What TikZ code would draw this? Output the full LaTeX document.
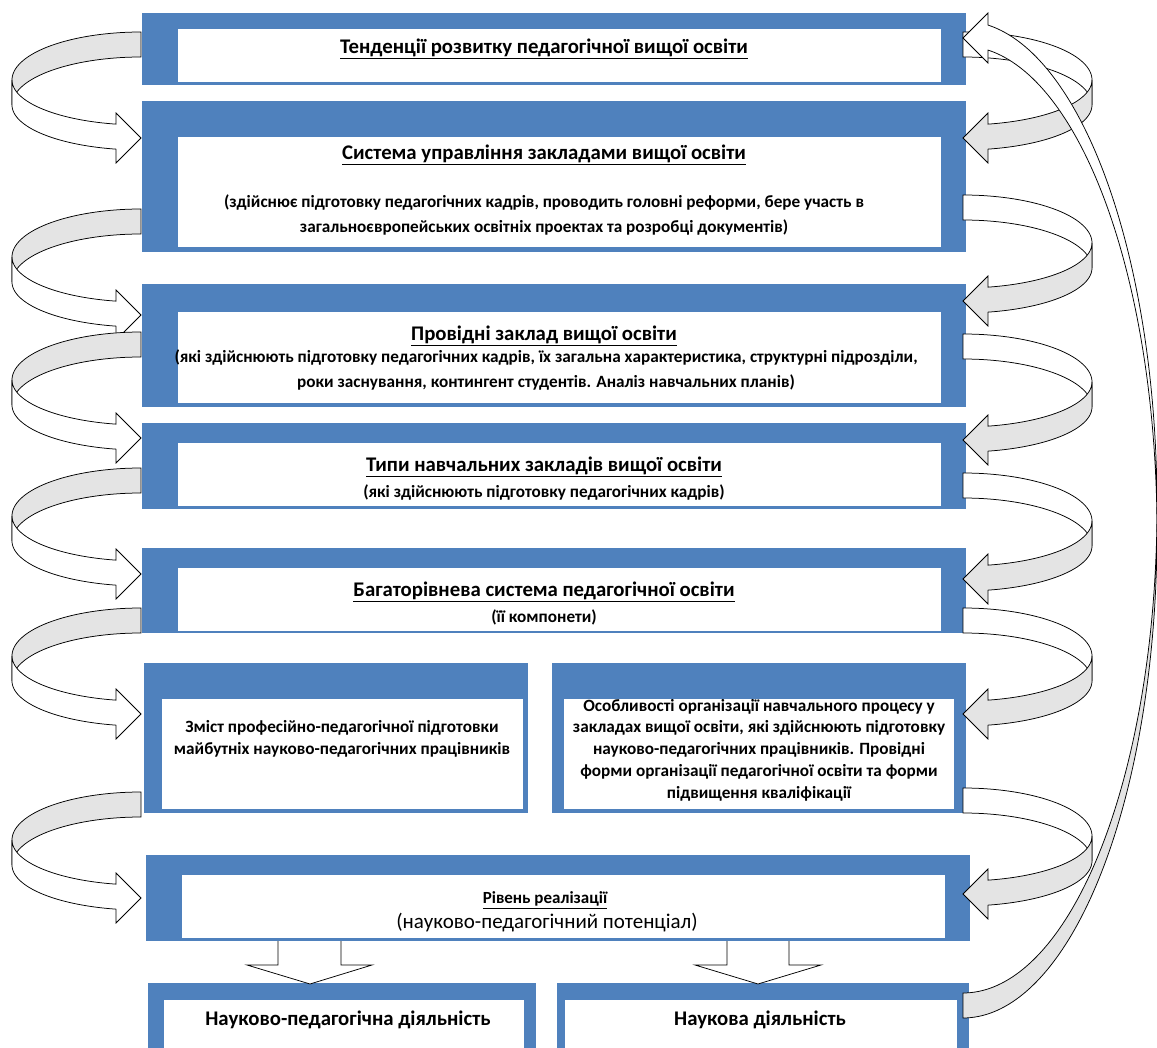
\documentclass[tikz,border=0pt]{standalone}
\usepackage{fontspec}
\setmainfont{Carlito}
\definecolor{boxblue}{HTML}{4F81BD}
\definecolor{bandgray}{HTML}{E4E4E4}
\begin{document}
\begin{tikzpicture}[x=1pt,y=-1pt,
  bluebox/.style={fill=boxblue, draw=none, anchor=north west, inner sep=0pt, outer sep=0pt},
  whitebox/.style={fill=white, draw=none, anchor=north west, inner sep=0pt, outer sep=0pt},
  ttl/.style={font=\fontsize{20.8}{24}\selectfont\bfseries, inner sep=0pt},
  subt/.style={font=\fontsize{17.2}{25}\selectfont\bfseries, align=center, inner sep=0pt},
  midt/.style={font=\fontsize{17.2}{21.7}\selectfont\bfseries, align=center, inner sep=0pt},
  arrowline/.style={draw=black, line width=0.75pt, line join=miter},
  pics/curl/.style n args={3}{code={
    \begin{scope}[xscale=#1]
      \filldraw[arrowline, fill=#2] (0,0)
        -- plot[domain=0:90,samples=40] ({-129*sin(\x)},{48-48*cos(\x)})
        -- (-129,73)
        -- plot[domain=0:90,samples=40] ({-129*cos(\x)},{73-48*sin(\x)})
        -- cycle;
      \filldraw[arrowline, fill=#3] (-129,48)
        -- plot[domain=0:78.83,samples=40] ({-129*cos(\x)},{48+45*sin(\x)})
        -- (-25,81) -- (0,106) -- (-25,131)
        -- plot[domain=11.17:90,samples=40] ({-129*sin(\x)},{73+45*cos(\x)})
        -- cycle;
    \end{scope}
  }}
]
\useasboundingbox (0,0) rectangle (1157,1048);

% ---------- boxes ----------
\node[bluebox, minimum width=824pt, minimum height=72pt]  (b1) at (142,13) {};
\node[whitebox, minimum width=763pt, minimum height=53pt] (w1) at (178,29) {};
\node[bluebox, minimum width=824pt, minimum height=151pt] (b2) at (142,101) {};
\node[whitebox, minimum width=763pt, minimum height=110pt] (w2) at (178,137) {};
\node[bluebox, minimum width=824pt, minimum height=123pt] (b3) at (142,284) {};
\node[whitebox, minimum width=763pt, minimum height=91pt] (w3) at (178,312) {};
\node[bluebox, minimum width=824pt, minimum height=86pt]  (b4) at (142,423) {};
\node[whitebox, minimum width=763pt, minimum height=63pt] (w4) at (178,443) {};
\node[bluebox, minimum width=824pt, minimum height=85pt]  (b5) at (142,548) {};
\node[whitebox, minimum width=763pt, minimum height=63pt] (w5) at (178,568) {};
\node[bluebox, minimum width=384pt, minimum height=150pt] (b6a) at (144,663) {};
\node[whitebox, minimum width=361pt, minimum height=110pt] (w6a) at (162,699) {};
\node[bluebox, minimum width=414pt, minimum height=150pt] (b6b) at (552,663) {};
\node[whitebox, minimum width=390pt, minimum height=110pt] (w6b) at (564,699) {};
\node[bluebox, minimum width=824pt, minimum height=86pt]  (b7) at (146,855) {};
\node[whitebox, minimum width=763pt, minimum height=63pt] (w7) at (182,875) {};
\node[bluebox, minimum width=388pt, minimum height=70pt]  (b8a) at (148,983) {};
\node[whitebox, minimum width=360pt, minimum height=60pt] (w8a) at (164,1000) {};
\node[bluebox, minimum width=412pt, minimum height=70pt]  (b8b) at (557,983) {};
\node[whitebox, minimum width=392pt, minimum height=60pt] (w8b) at (565,1000) {};

% ---------- texts ----------
\node[ttl] (t1) at (544,49) {\underline{Тенденції розвитку педагогічної вищої освіти}};
\node[ttl] (t2) at (544,155) {\underline{Система управління закладами вищої освіти}};
\node[subt] (s2) at (544,215.5) {(здійснює підготовку педагогічних кадрів, проводить головні реформи, бере участь в\\загальноєвропейських освітніх проектах та розробці документів)};
\node[ttl] (t3) at (544,336) {\underline{Провідні заклад вищої освіти}};
\node[subt] (s3) at (546,370.5) {(які здійснюють підготовку педагогічних кадрів, їх загальна характеристика, структурні підрозділи,\\роки заснування, контингент студентів. Аналіз навчальних планів)};
\node[ttl] (t4) at (544,467) {\underline{Типи навчальних закладів вищої освіти}};
\node[subt] (s4) at (544,493) {(які здійснюють підготовку педагогічних кадрів)};
\node[ttl] (t5) at (544,592) {\underline{Багаторівнева система педагогічної освіти}};
\node[subt] (s5) at (544,617) {(її компонети)};
\node[midt] (s6a) at (342,739) {Зміст професійно-педагогічної підготовки\\майбутніх науково-педагогічних працівників};
\node[midt] (s6b) at (759,750) {Особливості організації навчального процесу у\\закладах вищої освіти, які здійснюють підготовку\\науково-педагогічних працівників. Провідні\\форми організації педагогічної освіти та форми\\підвищення кваліфікації};
\node[font=\fontsize{17}{20}\selectfont\bfseries, inner sep=0pt] (t7) at (545,900) {\underline{Рівень реалізації}};
\node[font=\fontsize{21}{24}\selectfont, inner sep=0pt] (s7) at (547,923) {(науково-педагогічний потенціал)};
\node[ttl] (t8a) at (348,1020) {Науково-педагогічна діяльність};
\node[ttl] (t8b) at (760,1020) {Наукова діяльність};

% ---------- curled arrows, left side ----------
\foreach \yy in {32,209,332,468,608,792}
  \pic at (141,\yy) {curl={1}{bandgray}{white}};
% ---------- curled arrows, right side ----------
\foreach \yy in {32,195,334,473,608,788}
  \pic at (963,\yy) {curl={-1}{white}{bandgray}};

% ---------- long return arrow ----------
\filldraw[arrowline, fill=bandgray] (963,1018)
  -- plot[domain=0:90,samples=80] ({963+194*sin(\x)},{532+486*cos(\x)})
  -- (1157,507)
  -- plot[domain=0:90,samples=80] ({963+194*cos(\x)},{507+486*sin(\x)})
  -- cycle;
\filldraw[arrowline, fill=white] (1157,507)
  -- plot[domain=0:82.596,samples=80] ({963+194*cos(\x)},{507-486*sin(\x)})
  -- (988,13) -- (963,38) -- (988,63)
  -- plot[domain=7.404:90,samples=80] ({963+194*sin(\x)},{532-486*cos(\x)})
  -- cycle;

% ---------- down arrows ----------
\filldraw[arrowline, fill=white] (278,941) -- (278,965) -- (247,965) -- (310,984) -- (372,965) -- (341,965) -- (341,941);
\filldraw[arrowline, fill=white] (727,941) -- (727,965) -- (695,965) -- (758,984) -- (821,965) -- (789,965) -- (789,941);
\end{tikzpicture}
\end{document}
